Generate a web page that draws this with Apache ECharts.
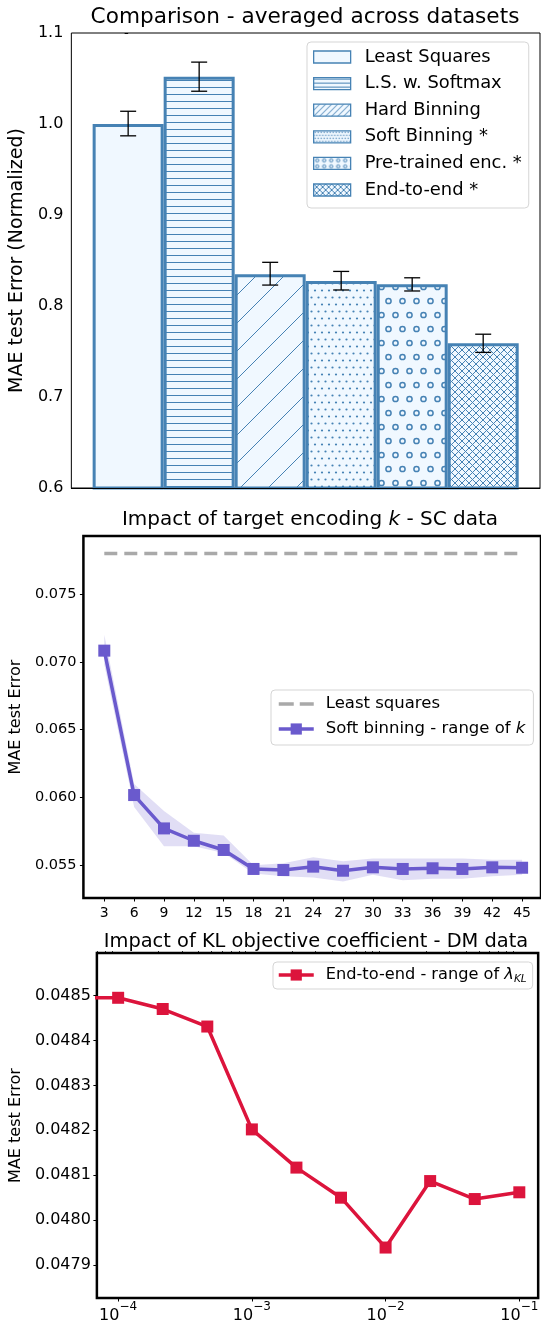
<!DOCTYPE html>
<html><head><meta charset="utf-8">
<script src="https://cdn.jsdelivr.net/npm/echarts@6/dist/echarts.min.js"></script>
<style>html,body{margin:0;padding:0;background:#fff}#c{width:541px;height:1324px}</style>
</head><body><div id="c"></div>
<script>
// ---------- Top chart: comparison averaged across datasets ----------
const methods = ['Least Squares', 'L.S. w. Softmax', 'Hard Binning', 'Soft Binning *', 'Pre-trained enc. *', 'End-to-end *'];
const maeNorm = [1.000, 1.052, 0.835, 0.8275, 0.824, 0.759];
const errLow  = [0.987, 1.036, 0.823, 0.8176, 0.8165, 0.749];
const errHigh = [1.014, 1.068, 0.848, 0.838, 0.831, 0.769];
const hatches = ['', '-', '/', '.', 'o', 'x'];
const yTicksTop = [0.6, 0.7, 0.8, 0.9, 1.0, 1.1];

// ---------- Middle chart: impact of target encoding k ----------
const kValues  = [3, 6, 9, 12, 15, 18, 21, 24, 27, 30, 33, 36, 39, 42, 45];
const softMae  = [0.07083, 0.06018, 0.05772, 0.05681, 0.05613, 0.05473, 0.05465, 0.0549, 0.0546, 0.05485, 0.05473, 0.05478, 0.05473, 0.05485, 0.05482];
const softLow  = [0.0698, 0.0593, 0.0564, 0.0564, 0.0559, 0.0544, 0.0542, 0.0541, 0.0538, 0.0543, 0.0539, 0.0540, 0.0540, 0.0542, 0.0543];
const softHigh = [0.0720, 0.0610, 0.0590, 0.0574, 0.0572, 0.0550, 0.05515, 0.0556, 0.0553, 0.0555, 0.0555, 0.0555, 0.0555, 0.0554, 0.0554];
const leastSquaresMae = [0.0780];
const yTicksMid = [0.055, 0.060, 0.065, 0.070, 0.075];

// ---------- Bottom chart: impact of KL coefficient ----------
// first entry lies left of the visible range (line enters from the left spine)
const lambdaKL = [1e-5, 1e-4, 2.154e-4, 4.642e-4, 1e-3, 2.154e-3, 4.642e-3, 1e-2, 2.154e-2, 4.642e-2, 1e-1];
const e2eMae   = [0.048496, 0.048495, 0.048470, 0.048431, 0.048202, 0.048117, 0.048050, 0.047939, 0.048087, 0.048047, 0.048062];
const yTicksBot = [0.0479, 0.0480, 0.0481, 0.0482, 0.0483, 0.0484, 0.0485];
const xTicksBot = [1e-4, 1e-3, 1e-2, 1e-1];

const FONT = 'DejaVu Sans';
const FILL = '#f0f8ff', EDGE = '#4682b4';

// hatch tiles; `s` = spacing scale (1 for bars, smaller for legend swatches)
function makeHatch(kind, small) {
  if (!kind) return FILL;
  const S = small
    ? {'-': [10, 4], '/': [6, 6], '.': [6, 6], 'o': [7, 6], 'x': [6, 6]}[kind]
    : {'-': [10, 7], '/': [28, 28], '.': [14, 14], 'o': [14, 28], 'x': [7, 7]}[kind];
  const c = document.createElement('canvas');
  c.width = S[0]; c.height = S[1];
  const g = c.getContext('2d');
  const W = S[0], H = S[1];
  g.fillStyle = FILL; g.fillRect(0, 0, W, H);
  g.strokeStyle = EDGE; g.fillStyle = EDGE; g.lineWidth = 1;
  if (kind === '-') {
    g.fillRect(0, small ? 1 : 3, W, 1);
  } else if (kind === '/') {
    [0, W, 2 * W].forEach(cc => { g.beginPath(); g.moveTo(cc + 2, -2); g.lineTo(-2, cc + 2); g.stroke(); });
  } else if (kind === '.') {
    const h = W / 4;
    [[h, h], [3 * h, h], [0, 3 * h], [2 * h, 3 * h], [4 * h, 3 * h]].forEach(p => { g.beginPath(); g.arc(p[0], p[1], small ? 0.7 : 1.1, 0, Math.PI * 2); g.fill(); });
  } else if (kind === 'o') {
    if (small) {
      g.lineWidth = 1;
      g.beginPath(); g.arc(3.5, 3, 1.6, 0, Math.PI * 2); g.stroke();
    } else {
      g.lineWidth = 1.5;
      [[3.5, 7], [10.5, 21]].forEach(p => { g.beginPath(); g.arc(p[0], p[1], 2.6, 0, Math.PI * 2); g.stroke(); });
    }
  } else if (kind === 'x') {
    [0, W, 2 * W].forEach(cc => { g.beginPath(); g.moveTo(cc + 2, -2); g.lineTo(-2, cc + 2); g.stroke(); });
    [-W, 0, W].forEach(cc => { g.beginPath(); g.moveTo(-2, -2 - cc); g.lineTo(W + 2, W + 2 - cc); g.stroke(); });
  }
  return {image: c, repeat: 'repeat'};
}

function logLabel(v) {
  const e = Math.round(v);
  return '{b|10}{e|\u2212' + Math.abs(e) + '}';
}

const chart = echarts.init(document.getElementById('c'), null, {renderer: 'canvas'});

const tickStyle = {show: true, length: 3.5, lineStyle: {color: '#000', width: 1}};
const series = [];

methods.forEach((m, i) => {
  series.push({
    type: 'bar', name: m, xAxisIndex: 0, yAxisIndex: 0,
    data: [[i, maeNorm[i]]], barWidth: 71, barGap: '-100%',
    itemStyle: {color: makeHatch(hatches[i], false), borderColor: EDGE, borderWidth: 3},
    emphasis: {disabled: true}, z: 2
  });
});

series.push({
  type: 'custom', name: 'err', xAxisIndex: 0, yAxisIndex: 0, z: 5,
  data: methods.map((m, i) => [i, errLow[i], errHigh[i]]),
  encode: {x: 0, y: [1, 2]},
  renderItem: (params, api) => {
    const x = api.value(0);
    const lo = api.coord([x, api.value(1)]);
    const hi = api.coord([x, api.value(2)]);
    const hw = 8;
    const st = {stroke: '#000', lineWidth: 1.3};
    return {type: 'group', children: [
      {type: 'line', shape: {x1: lo[0], y1: lo[1], x2: hi[0], y2: hi[1]}, style: st},
      {type: 'line', shape: {x1: lo[0] - hw, y1: lo[1], x2: lo[0] + hw, y2: lo[1]}, style: st},
      {type: 'line', shape: {x1: hi[0] - hw, y1: hi[1], x2: hi[0] + hw, y2: hi[1]}, style: st}
    ]};
  }
});

// middle band
series.push({
  type: 'custom', name: 'band', xAxisIndex: 1, yAxisIndex: 1, z: 1,
  data: kValues.map((k, i) => [k, softLow[i], softHigh[i]]),
  encode: {x: 0, y: [1, 2]},
  renderItem: (params, api) => {
    if (params.dataIndex !== 0) return;
    const pts = [];
    for (let i = 0; i < kValues.length; i++) pts.push(api.coord([kValues[i], softHigh[i]]));
    for (let i = kValues.length - 1; i >= 0; i--) pts.push(api.coord([kValues[i], softLow[i]]));
    return {type: 'polygon', shape: {points: pts}, style: {fill: 'rgba(106,90,205,0.2)'}};
  }
});
series.push({
  type: 'line', name: 'Least squares', xAxisIndex: 1, yAxisIndex: 1, z: 2,
  data: [[kValues[0], leastSquaresMae[0]], [kValues[kValues.length - 1], leastSquaresMae[0]]],
  symbol: 'none', lineStyle: {color: '#a9a9a9', width: 3.5, type: [13, 7]},
  itemStyle: {color: '#a9a9a9'}
});
series.push({
  type: 'line', name: 'Soft binning - range of k', xAxisIndex: 1, yAxisIndex: 1, z: 3,
  data: kValues.map((k, i) => [k, softMae[i]]),
  symbol: 'rect', symbolSize: 12,
  lineStyle: {color: '#6a5acd', width: 3.5}, itemStyle: {color: '#6a5acd'}
});
series.push({
  type: 'line', name: 'End-to-end', xAxisIndex: 2, yAxisIndex: 2, z: 3,
  data: lambdaKL.map((l, i) => [Math.log10(l), e2eMae[i]]),
  symbol: 'rect', symbolSize: 12, clip: true,
  lineStyle: {color: '#dc143c', width: 3.5}, itemStyle: {color: '#dc143c'}
});

const minorBot = [];
for (let n = -5; n <= -1; n++) for (let m = 2; m <= 9; m++) {
  const v = Math.log10(m) + n;
  if (v > -4.159 && v < -0.859) minorBot.push(v);
}

const baseText = {fontFamily: FONT, color: '#000'};
const dashIcon = 'path://M0,0M35,14M0,5.25h15v3.5h-15zM21,5.25h14v3.5h-14z';

const option = {
  animation: false,
  textStyle: {fontFamily: FONT},
  title: [
    {text: 'Comparison - averaged across datasets', left: 305, top: 6, padding: 0, textAlign: 'center',
     textStyle: Object.assign({fontSize: 21.6, fontWeight: 'normal'}, baseText)},
    {text: '{n|Impact of target encoding }{i|k}{n| - SC data}', left: 310, top: 510, padding: 0, textAlign: 'center',
     textStyle: Object.assign({fontSize: 20, fontWeight: 'normal', rich: {
       n: {fontSize: 20, fontFamily: FONT, color: '#000'},
       i: {fontSize: 20, fontFamily: FONT, fontStyle: 'italic', color: '#000'}}}, baseText)},
    {text: 'Impact of KL objective coefficient - DM data', left: 316, top: 932, padding: 0, textAlign: 'center',
     textStyle: Object.assign({fontSize: 19.4, fontWeight: 'normal'}, baseText)}
  ],
  legend: [
    {data: methods.map((m, i) => ({name: m, itemStyle: {color: makeHatch(hatches[i], true)}})),
     orient: 'vertical', left: 307, top: 42, icon: 'rect',
     itemWidth: 37, itemHeight: 12, itemGap: 6.6, padding: [5, 7, 8, 6],
     backgroundColor: '#fff', borderColor: '#d5d5d5', borderWidth: 1, borderRadius: 4,
     itemStyle: {borderColor: EDGE, borderWidth: 1.3},
     textStyle: Object.assign({fontSize: 17.9, lineHeight: 20, padding: [0, 0, 0, 9]}, baseText),
     selectedMode: false},
    {data: [{name: 'Least squares', icon: dashIcon}, {name: 'Soft binning - range of k'}], orient: 'vertical', left: 271, top: 690,
     itemWidth: 35, itemHeight: 14, itemGap: 5, padding: [4, 8, 6, 6],
     backgroundColor: '#fff', borderColor: '#d5d5d5', borderWidth: 1, borderRadius: 4,
     lineStyle: {width: 3.5},
     formatter: name => name === 'Soft binning - range of k' ? '{n|Soft binning - range of }{i|k}' : '{n|' + name + '}',
     textStyle: Object.assign({fontSize: 16.5, lineHeight: 20, padding: [0, 0, 0, 7], rich: {
       n: {fontSize: 16.5, fontFamily: FONT, color: '#000'},
       i: {fontSize: 16.5, fontFamily: FONT, fontStyle: 'italic', color: '#000'}}}, baseText),
     selectedMode: false},
    {data: ['End-to-end'], orient: 'vertical', left: 273, top: 962,
     itemWidth: 35, itemHeight: 14, padding: [3, 6, 4, 4],
     backgroundColor: '#fff', borderColor: '#d5d5d5', borderWidth: 1, borderRadius: 4,
     lineStyle: {width: 3.5},
     formatter: () => '{n|End-to-end - range of }{l|\u03bb}{s|KL}',
     textStyle: Object.assign({fontSize: 16.2, lineHeight: 20, padding: [0, 0, 0, 7], rich: {
       n: {fontSize: 16.2, fontFamily: FONT, color: '#000'},
       l: {fontSize: 16.2, fontFamily: FONT, fontStyle: 'italic', color: '#000'},
       s: {fontSize: 10.5, fontFamily: FONT, fontStyle: 'italic', color: '#000', padding: [8, 0, 0, 0]}}}, baseText),
     selectedMode: false}
  ],
  grid: [
    {left: 70, top: 33, width: 470, height: 455, show: true, borderColor: '#000', borderWidth: 1, backgroundColor: 'transparent'},
    {left: 77, top: 536, width: 464, height: 362, show: true, borderColor: '#000', borderWidth: 2.5, backgroundColor: 'transparent'},
    {left: 89, top: 953, width: 451, height: 351, show: true, borderColor: '#000', borderWidth: 2.5, backgroundColor: 'transparent'}
  ],
  xAxis: [
    {gridIndex: 0, type: 'value', min: -0.8, max: 5.8, z: 5,
     axisLine: {show: true, onZero: false, lineStyle: {color: '#000', width: 1}},
     axisTick: {show: false}, axisLabel: {show: false}, splitLine: {show: false}},
    {gridIndex: 1, type: 'value', min: 0.9, max: 46.9,
     axisLine: {show: false}, splitLine: {show: false},
     axisTick: Object.assign({customValues: kValues}, tickStyle),
     axisLabel: {customValues: kValues, fontSize: 14, margin: 8, color: '#000', fontFamily: FONT}},
    {gridIndex: 2, type: 'value', min: -4.159, max: -0.859,
     axisLine: {show: false}, splitLine: {show: false},
     axisTick: Object.assign({customValues: xTicksBot.map(v => Math.log10(v))}, tickStyle),
     axisLabel: {customValues: xTicksBot.map(v => Math.log10(v)), formatter: logLabel, margin: 3, color: '#000',
       rich: {b: {fontSize: 16, fontFamily: FONT, color: '#000', verticalAlign: 'bottom', padding: [7, 0, 0, 0]},
              e: {fontSize: 12, fontFamily: FONT, color: '#000', verticalAlign: 'top'}}}},
    {gridIndex: 2, type: 'value', min: -4.159, max: -0.859,
     axisLine: {show: false}, splitLine: {show: false}, axisLabel: {show: false, customValues: minorBot},
     axisTick: {show: true, customValues: minorBot, length: 2, lineStyle: {color: '#000', width: 0.8}}}
  ],
  yAxis: [
    {gridIndex: 0, type: 'value', min: 0.6, max: 1.1,
     name: 'MAE test Error (Normalized)', nameLocation: 'middle', nameGap: 37,
     nameTextStyle: {fontSize: 19, color: '#000', fontFamily: FONT},
     axisLine: {show: false}, splitLine: {show: false},
     axisTick: Object.assign({customValues: yTicksTop}, tickStyle),
     axisLabel: {customValues: yTicksTop, formatter: v => v.toFixed(1), fontSize: 16, margin: 8, color: '#000', fontFamily: FONT}},
    {gridIndex: 1, type: 'value', min: 0.052588, max: 0.079284,
     name: 'MAE test Error', nameLocation: 'middle', nameGap: 53,
     nameTextStyle: {fontSize: 16, color: '#000', fontFamily: FONT},
     axisLine: {show: false}, splitLine: {show: false},
     axisTick: Object.assign({customValues: yTicksMid}, tickStyle),
     axisLabel: {customValues: yTicksMid, formatter: v => v.toFixed(3), fontSize: 14.5, margin: 7, color: '#000', fontFamily: FONT}},
    {gridIndex: 2, type: 'value', min: 0.0478267, max: 0.0485947,
     name: 'MAE test Error', nameLocation: 'middle', nameGap: 65,
     nameTextStyle: {fontSize: 16, color: '#000', fontFamily: FONT},
     axisLine: {show: false}, splitLine: {show: false},
     axisTick: Object.assign({customValues: yTicksBot}, tickStyle),
     axisLabel: {customValues: yTicksBot, formatter: v => v.toFixed(4), fontSize: 16, margin: 6, color: '#000', fontFamily: FONT}}
  ],
  series: series
};
chart.setOption(option);
</script></body></html>
